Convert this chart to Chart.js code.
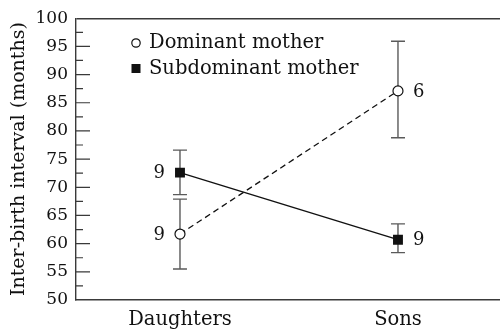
<!DOCTYPE html>
<html>
<head>
<meta charset="utf-8">
<script src="https://cdn.jsdelivr.net/npm/chart.js@4/dist/chart.umd.min.js"></script>
<style>
html,body{margin:0;padding:0;background:#fff;}
#wrap{width:500px;height:332px;position:relative;}
</style>
</head>
<body>
<div id="wrap"><canvas id="c" width="500" height="332"></canvas></div>
<script>
// ---- data ----
const categories = ["Daughters", "Sons"];
const categoryPos = [0, 1];
const seriesNames = ["Dominant mother", "Subdominant mother"];
const dominantMean = [61.7, 87.1];
const dominantLow = [55.5, 78.8];
const dominantHigh = [67.9, 95.9];
const dominantN = [9, 6];
const subdominantMean = [72.6, 60.7];
const subdominantLow = [68.7, 58.4];
const subdominantHigh = [76.6, 63.5];
const subdominantN = [9, 9];
const yTickValues = [50, 55, 60, 65, 70, 75, 80, 85, 90, 95, 100];

const FONT = "'DejaVu Serif', serif";
const INK = "#111";
const AXIS = "#3a3a3a";
const ERR = "#5a5a5a";

const errLow = [dominantLow, subdominantLow];
const errHigh = [dominantHigh, subdominantHigh];
const counts = [dominantN, subdominantN];
const countSide = [-1, 1]; // daughters labels left, sons right

const errorBars = {
  id: 'errorBars',
  beforeDatasetsDraw(chart) {
    const {ctx, scales: {x, y}} = chart;
    ctx.save();
    ctx.strokeStyle = ERR;
    ctx.lineWidth = 1.4;
    for (let d = 0; d < 2; d++) {
      for (let i = 0; i < categoryPos.length; i++) {
        const px = x.getPixelForValue(categoryPos[i]);
        const lo = y.getPixelForValue(errLow[d][i]);
        const hi = y.getPixelForValue(errHigh[d][i]);
        ctx.beginPath();
        ctx.moveTo(px, lo); ctx.lineTo(px, hi);
        ctx.moveTo(px - 7, lo); ctx.lineTo(px + 7, lo);
        ctx.moveTo(px - 7, hi); ctx.lineTo(px + 7, hi);
        ctx.stroke();
      }
    }
    ctx.restore();
  },
  afterDatasetsDraw(chart) {
    const {ctx, scales: {x, y}} = chart;
    ctx.save();
    ctx.fillStyle = INK;
    ctx.font = "18px " + FONT;
    ctx.textBaseline = 'middle';
    const means = [dominantMean, subdominantMean];
    for (let d = 0; d < 2; d++) {
      for (let i = 0; i < categoryPos.length; i++) {
        const px = x.getPixelForValue(categoryPos[i]);
        const py = y.getPixelForValue(means[d][i]);
        const side = countSide[i];
        ctx.textAlign = side < 0 ? 'right' : 'left';
        ctx.fillText(String(counts[d][i]), px + side * 15, py + 1);
      }
    }
    ctx.restore();
  }
};

const innerTicks = {
  id: 'innerTicks',
  afterDraw(chart) {
    const {ctx, scales: {y}} = chart;
    const left = y.right;
    ctx.save();
    ctx.strokeStyle = AXIS;
    ctx.lineWidth = 1.2;
    ctx.beginPath();
    for (let k = 0; k < yTickValues.length; k++) {
      const v = yTickValues[k];
      const py = y.getPixelForValue(v);
      if (v > y.min && v < y.max) {
        ctx.moveTo(left, py); ctx.lineTo(left + 14, py);
      }
      if (k < yTickValues.length - 1) {
        const m = (v + yTickValues[k + 1]) / 2;
        const pm = y.getPixelForValue(m);
        ctx.moveTo(left, pm); ctx.lineTo(left + 7, pm);
      }
    }
    ctx.stroke();
    ctx.restore();
  }
};

const customLegend = {
  id: 'customLegend',
  afterDraw(chart) {
    const {ctx} = chart;
    ctx.save();
    ctx.font = "19.5px " + FONT;
    ctx.textBaseline = 'middle';
    ctx.textAlign = 'left';
    // marker 1: open circle
    ctx.beginPath();
    ctx.arc(136, 43, 4.2, 0, Math.PI * 2);
    ctx.fillStyle = '#fff';
    ctx.fill();
    ctx.strokeStyle = INK;
    ctx.lineWidth = 1.2;
    ctx.stroke();
    ctx.fillStyle = INK;
    ctx.fillText(seriesNames[0], 149, 43);
    // marker 2: filled square
    ctx.fillRect(131.5, 64, 9, 9);
    ctx.fillText(seriesNames[1], 149, 69);
    ctx.restore();
  }
};

new Chart(document.getElementById('c'), {
  type: 'line',
  data: {
    datasets: [
      {
        label: seriesNames[0],
        data: categoryPos.map((p, i) => ({x: p, y: dominantMean[i]})),
        borderColor: INK,
        borderWidth: 1.3,
        borderDash: [6, 4],
        pointStyle: 'circle',
        pointRadius: 5,
        pointBackgroundColor: '#fff',
        pointBorderColor: INK,
        pointBorderWidth: 1.2,
        tension: 0
      },
      {
        label: seriesNames[1],
        data: categoryPos.map((p, i) => ({x: p, y: subdominantMean[i]})),
        borderColor: INK,
        borderWidth: 1.4,
        pointStyle: 'rect',
        pointRadius: 7,
        pointBackgroundColor: INK,
        pointBorderColor: INK,
        pointBorderWidth: 0,
        tension: 0
      }
    ]
  },
  options: {
    responsive: false,
    animation: false,
    layout: {autoPadding: false, padding: {top: 15, right: 0, left: 0, bottom: 0}},
    plugins: {legend: {display: false}, tooltip: {enabled: false}},
    scales: {
      x: {
        type: 'linear',
        min: -0.477,
        max: 1.468,
        afterBuildTicks(scale) { scale.ticks = categoryPos.map(v => ({value: v})); },
        afterFit(scale) { scale.height = 32; scale.paddingLeft = 0; scale.paddingRight = 0; },
        ticks: {
          callback: (v) => categories[categoryPos.indexOf(v)] ?? '',
          font: {family: FONT, size: 19.5},
          color: INK,
          padding: 8,
          maxRotation: 0,
          autoSkip: false
        },
        grid: {display: false, drawTicks: false},
        border: {display: true, color: AXIS, width: 1.4}
      },
      y: {
        min: 50,
        max: 100,
        afterBuildTicks(scale) { scale.ticks = yTickValues.map(v => ({value: v})); },
        afterFit(scale) { scale.width = 76; },
        ticks: {
          font: {family: FONT, size: 17},
          color: INK,
          padding: 8
        },
        grid: {
          drawTicks: false,
          tickLength: 0,
          color: (c) => (c.tick && c.tick.value === 100) ? AXIS : 'rgba(0,0,0,0)',
          lineWidth: 1.4
        },
        border: {display: true, color: AXIS, width: 1.4},
        title: {
          display: true,
          text: 'Inter-birth interval (months)',
          font: {family: FONT, size: 19},
          color: INK,
          padding: {top: 8, bottom: 0}
        }
      }
    }
  },
  plugins: [errorBars, innerTicks, customLegend]
});
</script>
</body>
</html>
